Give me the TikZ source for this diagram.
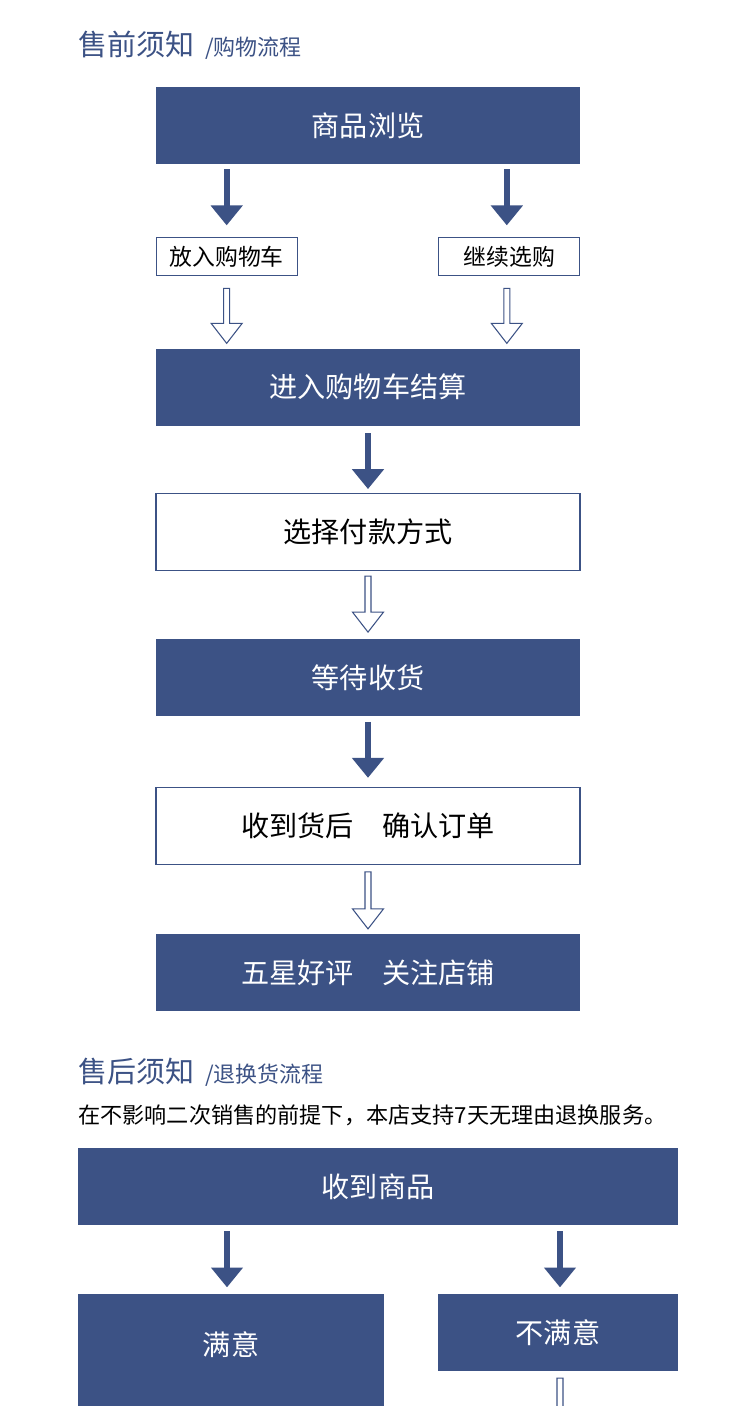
\documentclass[tikz,border=0pt]{standalone}
\usepackage{fontspec}
\setmainfont{Noto Sans CJK SC}
\usepackage{xcolor}
\usepackage{tikz}
\usetikzlibrary{positioning,calc,arrows.meta}
\definecolor{navy}{RGB}{60, 82, 133}
\tikzset{
    darkbox/.style={rectangle, fill=navy, text=white, inner sep=0pt,
                    minimum width=8.48cm, minimum height=1.54cm, font=\fontsize{16}{18}\selectfont},
    whitebox/.style={rectangle, draw=navy, line width=0.6pt, fill=white, text=black, inner sep=0pt,
                    minimum width=8.48cm, minimum height=1.54cm, font=\fontsize{16}{18}\selectfont},
    smallbox/.style={rectangle, draw=navy, line width=0.6pt, text=black, inner sep=0pt,
                    minimum width=2.82cm, minimum height=0.76cm, font=\fontsize{13}{15}\selectfont},
    heading/.style={text=navy, inner sep=0pt, anchor=base west, font=\fontsize{16.5}{19}\selectfont},
    subheading/.style={text=navy, inner sep=0pt, anchor=base west, font=\fontsize{12.5}{14}\selectfont},
    notetext/.style={text=black, inner sep=0pt, anchor=base west, font=\fontsize{12.6}{14}\selectfont},
    fatarrow/.style={draw=navy, line width=3.4pt, -{Triangle[width=17.6pt,length=11.3pt]}},
    hollow/.style={draw=navy, line width=0.6pt, fill=white, line join=miter},
}
\newcommand{\hollowarrow}[2]{%
    \draw[hollow] ($(#1)+(-0.06,0)$) -- ($(#2)+(-0.06,0.4)$) -- ($(#2)+(-0.31,0.4)$) -- (#2)
        -- ($(#2)+(0.31,0.4)$) -- ($(#2)+(0.06,0.4)$) -- ($(#1)+(0.06,0)$) -- cycle;}

\begin{document}
\begin{tikzpicture}
        \fill[white] (0,0) rectangle (15.02,-28.12);
        \clip (0,0) rectangle (15.02,-28.12);

        % Before buying
        \node [heading] (pre) at (1.56,-1.12) {售前须知};
        \node [subheading] (presub) at ([xshift=0.2cm]pre.base east) {/购物流程};

        \node [darkbox] (browse) at (7.36,-2.51) {商品浏览};
        \node [smallbox, below right=1.46cm and 0cm of browse.south west] (addcart) {放入购物车};
        \node [smallbox, below left=1.46cm and 0cm of browse.south east]  (goon)    {继续选购};
        \node [darkbox, below=3.68cm of browse]   (checkout) {进入购物车结算};
        \node [whitebox, below=1.34cm of checkout] (pay)     {选择付款方式};
        \node [darkbox, below=1.36cm of pay]      (wait)     {等待收货};
        \node [whitebox, below=1.40cm of wait]    (confirm)  {收到货后\hspace{1em}确认订单};
        \node [darkbox, below=1.38cm of confirm]  (review)   {五星好评\hspace{1em}关注店铺};

        % After buying
        \node [heading] (post) at (1.56,-21.64) {售后须知};
        \node [subheading] (postsub) at ([xshift=0.2cm]post.base east) {/退换货流程};
        \node [notetext] (note) at (1.56,-22.46) {在不影响二次销售的前提下，本店支持7天无理由退换服务。};

        \node [darkbox, minimum width=12cm] (recv) at (7.56,-23.73) {收到商品};
        \node [darkbox, minimum width=6.12cm, minimum height=2.3cm, text depth=0.3cm,
               below right=1.36cm and 0cm of recv.south west] (happy) {满意};
        \node [darkbox, minimum width=4.8cm, below left=1.36cm and 0cm of recv.south east] (unhappy) {不满意};

        % Solid arrows
        \draw[fatarrow] ([yshift=-0.1cm]browse.south -| addcart.north) -- ([yshift=0.24cm]addcart.north);
        \draw[fatarrow] ([xshift=-0.05cm,yshift=-0.1cm]browse.south -| goon.north) -- ([xshift=-0.05cm,yshift=0.24cm]goon.north);
        \draw[fatarrow] ([yshift=-0.14cm]checkout.south) -- ([yshift=0.08cm]pay.north);
        \draw[fatarrow] ([yshift=-0.1cm]wait.south)      -- ([yshift=0.18cm]confirm.north);
        \draw[fatarrow] ([xshift=-0.08cm,yshift=-0.12cm]recv.south -| happy.north) -- ([xshift=-0.08cm,yshift=0.12cm]happy.north);
        \draw[fatarrow] ([xshift=0.04cm,yshift=-0.12cm]recv.south -| unhappy.north) -- ([xshift=0.04cm,yshift=0.12cm]unhappy.north);

        % Hollow arrows
        \coordinate (a1) at ([yshift=-0.24cm]addcart.south);
        \coordinate (b1) at ([yshift=0.1cm]addcart.south |- checkout.north);
        \coordinate (a2) at ([xshift=-0.05cm,yshift=-0.24cm]goon.south);
        \coordinate (b2) at ([xshift=-0.05cm,yshift=0.1cm]goon.south |- checkout.north);
        \coordinate (a3) at ([yshift=-0.1cm]pay.south);
        \coordinate (b3) at ([yshift=0.14cm]wait.north);
        \coordinate (a4) at ([yshift=-0.14cm]confirm.south);
        \coordinate (b4) at ([yshift=0.1cm]review.north);
        \coordinate (a5) at ([xshift=0.04cm,yshift=-0.14cm]unhappy.south);
        \coordinate (b5) at ([xshift=0.04cm,yshift=-1.26cm]unhappy.south);
        \hollowarrow{a1}{b1}
        \hollowarrow{a2}{b2}
        \hollowarrow{a3}{b3}
        \hollowarrow{a4}{b4}
        \hollowarrow{a5}{b5}
\end{tikzpicture}
\end{document}
